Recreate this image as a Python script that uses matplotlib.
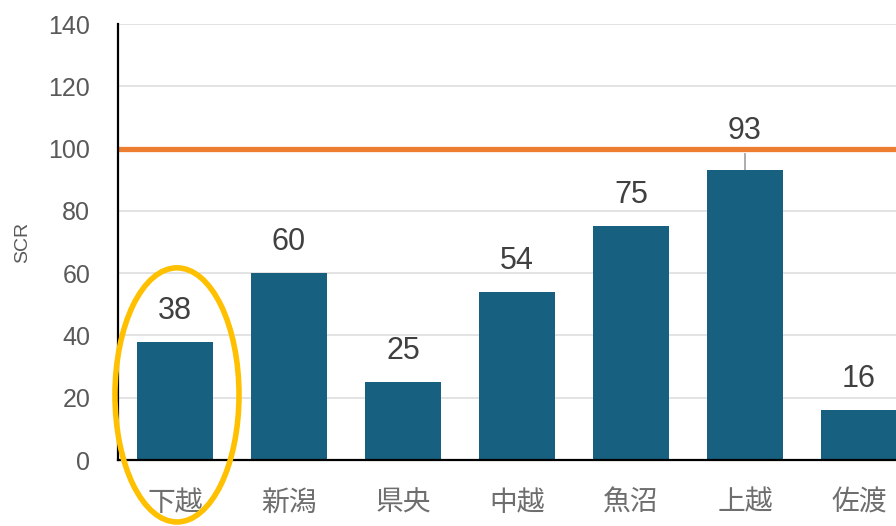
import matplotlib
matplotlib.use('Agg')
import matplotlib.pyplot as plt
from matplotlib.patches import Ellipse

# data
areas = ['下越', '新潟', '県央', '中越', '魚沼', '上越', '佐渡']
scr = [38, 60, 25, 54, 75, 93, 16]
ref_level = 100
y_ticks = [0, 20, 40, 60, 80, 100, 120, 140]

plt.rcParams['font.family'] = ['Liberation Sans', 'Noto Sans CJK JP', 'DejaVu Sans']

fig = plt.figure(figsize=(8.96, 5.26), dpi=100)
ax = fig.add_axes([118 / 896, 1 - 460 / 526, 1 - 118 / 896, 436 / 526])

x = list(range(len(areas)))
ax.bar(x, scr, width=0.667, color='#17607F', zorder=3)

# reference line
ax.axhline(ref_level, color='#ED7D31', lw=3.8, zorder=4)

# value labels
for xi, v in zip(x, scr):
    if v > 88:
        ax.text(xi, v + 12.5, str(v), ha='center', va='center', fontsize=22, color='#404040')
        ax.plot([xi, xi], [v, v + 5.4], color='#A6A6A6', lw=1.3, zorder=2)
    else:
        ax.text(xi, v + 10, str(v), ha='center', va='center', fontsize=22, color='#404040')

ax.set_xlim(-0.5, (896 - 118) / 114 - 0.5)
ax.set_ylim(0, 140)
ax.set_yticks(y_ticks)
ax.set_xticks(x)
ax.set_xticklabels(areas, fontsize=20, color='#6E6E6E')
ax.tick_params(axis='both', length=0)
ax.tick_params(axis='y', labelcolor='#595959', labelsize=18, pad=20)
ax.tick_params(axis='x', pad=22)
ax.grid(axis='y', color='#E3E3E3', lw=1.4, zorder=0)
ax.set_axisbelow(True)

for s in ['top', 'right']:
    ax.spines[s].set_visible(False)
ax.spines['left'].set_linewidth(1.6)
ax.spines['bottom'].set_linewidth(1.6)
ax.spines['left'].set_zorder(5)
ax.spines['bottom'].set_zorder(5)

fig.text(23 / 896, 1 - 242 / 526, 'SCR', rotation=90, ha='center', va='center',
         fontsize=14, color='#595959')

# highlight ellipse around first bar
ell = Ellipse((0.0175, 20.9), 1.088, 81.6, fill=False, edgecolor='#FFC000',
              lw=4.0, clip_on=False, zorder=6)
ax.add_patch(ell)

fig.savefig('out.png', dpi=100)
